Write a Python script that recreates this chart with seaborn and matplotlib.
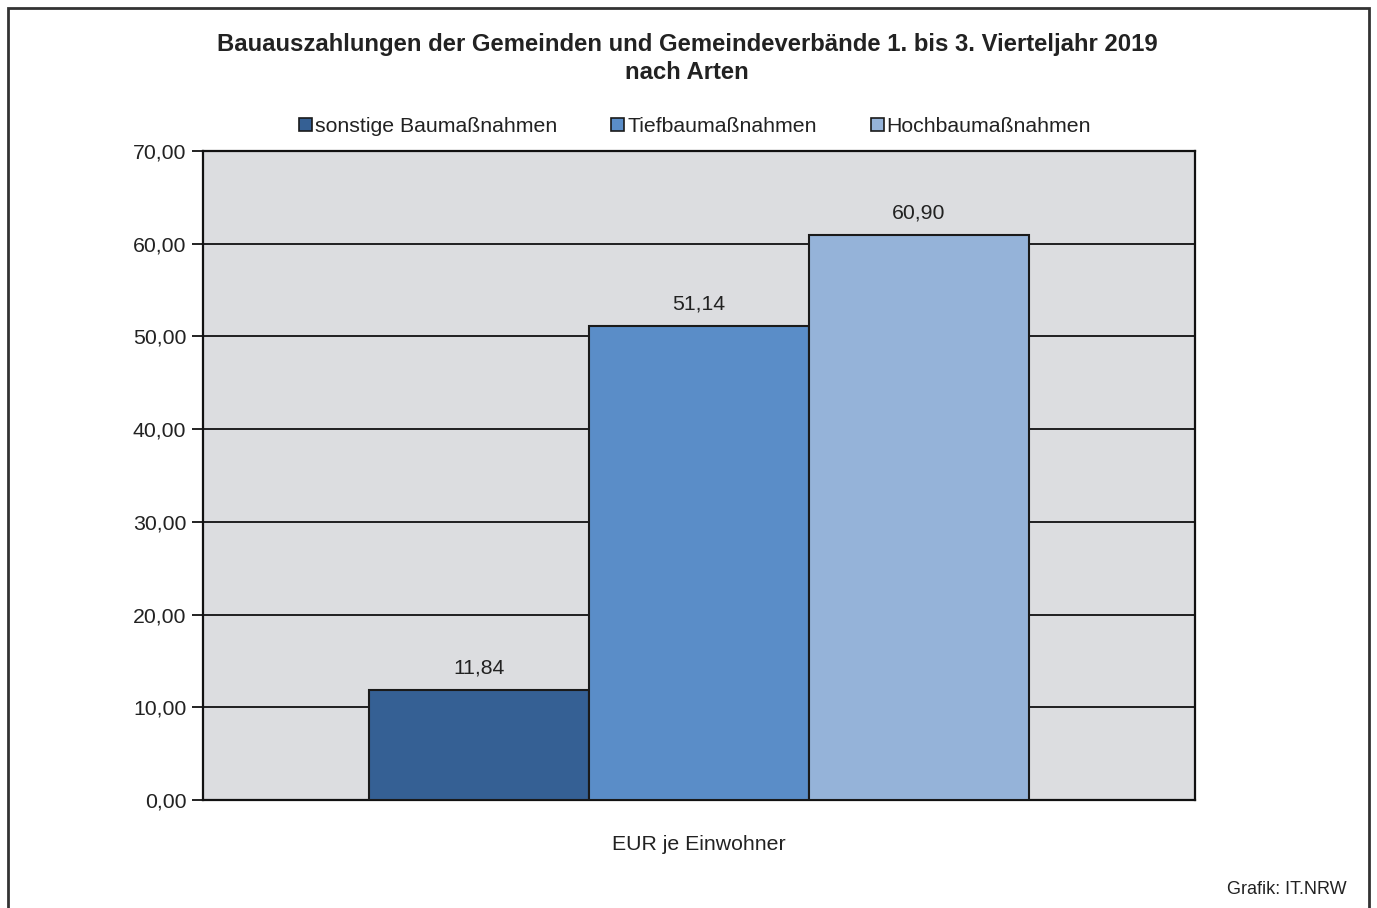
import matplotlib
matplotlib.use("Agg")
import matplotlib.pyplot as plt
import seaborn as sns
import pandas as pd
from matplotlib.patches import Rectangle
from matplotlib.ticker import FuncFormatter, MultipleLocator

categories = ["sonstige Baumaßnahmen", "Tiefbaumaßnahmen", "Hochbaumaßnahmen"]
values = [11.84, 51.14, 60.90]
group = ["EUR je Einwohner"] * 3
colors = ["#356094", "#5a8dc8", "#95b3d9"]

sns.set_theme(style="white")
plt.rcParams["font.family"] = ["Liberation Sans", "DejaVu Sans"]

df = pd.DataFrame({"Gruppe": group, "Art": categories, "Wert": values})

fig = plt.figure(figsize=(13.77, 9.08), dpi=100)
ax = fig.add_axes([203/1377, 1-800/908, (1195-203)/1377, (800-151)/908])
ax.set_facecolor("#dcdde0")

sns.barplot(data=df, x="Gruppe", y="Wert", hue="Art", hue_order=categories,
            palette=colors, saturation=1, width=0.665, edgecolor="#1a1a1a", linewidth=1.5,
            ax=ax, zorder=3, legend=True)

ax.set_ylim(0, 70)
ax.set_xlim(-0.5, 0.5)
ax.yaxis.set_major_locator(MultipleLocator(10))
ax.yaxis.set_major_formatter(FuncFormatter(lambda v, p: f"{v:.2f}".replace(".", ",")))
ax.grid(axis="y", color="#111111", linewidth=1.3, zorder=0)
ax.set_axisbelow(True)
ax.tick_params(axis="y", direction="out", length=8, width=1.3, color="#111111",
               labelsize=15.3, labelcolor="#222222", pad=4, left=True)
ax.tick_params(axis="x", length=0, labelsize=15.3, labelcolor="#222222", pad=25)
ax.set_xlabel("")
ax.set_ylabel("")
for s in ax.spines.values():
    s.set_color("#111111")
    s.set_linewidth(1.6)
    s.set_visible(True)

for cont in ax.containers:
    ax.bar_label(cont, labels=[f"{v:.2f}".replace(".", ",") for v in cont.datavalues],
                 padding=9, fontsize=15.3, color="#222222")

handles, labels = ax.get_legend_handles_labels()
ax.legend_.remove()
leg = fig.legend(handles, labels, loc="center", bbox_to_anchor=(695/1377, 1-126.5/908),
                 ncol=3, frameon=False, fontsize=15.3, handlelength=0.6, handleheight=0.6,
                 handletextpad=0.15, columnspacing=2.55)
for h in leg.legend_handles:
    h.set_edgecolor("#1a1a1a")
    h.set_linewidth(1.2)
for t in leg.get_texts():
    t.set_color("#222222")

fig.text(687/1377, 1-58.5/908, "Bauauszahlungen der Gemeinden und Gemeindeverbände 1. bis 3. Vierteljahr 2019\nnach Arten",
         ha="center", va="center", fontsize=17.2, fontweight="bold", color="#222222",
         linespacing=1.32)
fig.text(1347/1377, 1-889/908, "Grafik: IT.NRW", ha="right", va="center", fontsize=13, color="#222222")

fig.patches.append(Rectangle((8/1377, -0.05), (1369-8)/1377, (1-8/908)+0.05,
                             transform=fig.transFigure, fill=False, edgecolor="#333333",
                             linewidth=2, zorder=10))

fig.savefig("out.png", dpi=100, facecolor="white")
